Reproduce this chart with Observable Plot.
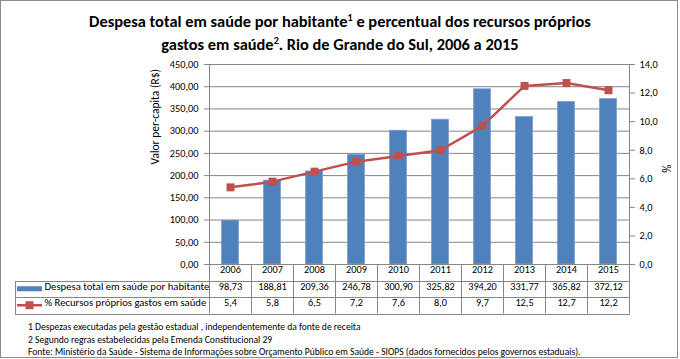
<!DOCTYPE html>
<html><head><meta charset="utf-8">
<script src="https://cdn.jsdelivr.net/npm/d3@7"></script>
<script src="https://cdn.jsdelivr.net/npm/@observablehq/plot@0.6"></script>
<style>
html,body{margin:0;padding:0;background:#fff;}
#wrap{position:relative;width:680px;height:359px;overflow:hidden;font-family:Carlito,Calibri,Lato,sans-serif;}
#frame{position:absolute;left:0;top:0;width:676px;height:356px;border:1px solid #8c8c8c;}
#title{position:absolute;left:0;top:10px;width:680px;text-align:center;font-weight:bold;font-size:16.4px;line-height:23px;color:#000;}
#title sup{font-size:10px;line-height:0;vertical-align:6px;}
#notes{position:absolute;left:28px;top:321px;font-size:9.6px;line-height:12.5px;color:#000;}
#chart{position:absolute;left:0;top:0;}
</style></head>
<body>
<div id="wrap">
<div id="frame"></div>
<div id="chart"></div>
<div id="title">Despesa total em saúde por habitante<sup>1</sup> e percentual dos recursos próprios<br>gastos em saúde<sup>2</sup>. Rio de Grande do Sul, 2006 a 2015</div>
<div id="notes">1 Despezas executadas pela gestão estadual , independentemente da fonte de receita<br>2 Segundo regras estabelecidas pela Emenda Constitucional 29<br>Fonte: Ministério da Saúde - Sistema de Informações sobre Orçamento Público em Saúde - SIOPS (dados fornecidos pelos governos estaduais).</div>
</div>
<script>
const years = ["2006","2007","2008","2009","2010","2011","2012","2013","2014","2015"];
const despesa = [98.73,188.81,209.36,246.78,300.90,325.82,394.20,331.77,365.82,372.12];
const pct = [5.4,5.8,6.5,7.2,7.6,8.0,9.7,12.5,12.7,12.2];
const leftTicks = [0,50,100,150,200,250,300,350,400,450];
const rightTicks = [0,2,4,6,8,10,12,14];
const seriesNames = ["Despesa total em saúde por habitante","% Recursos próprios gastos em saúde"];
const leftTitle = "Valor per-capita (R$)";
const rightTitle = "%";

const LMAX = 450, RMAX = 14;
const toLeft = v => v * LMAX / RMAX;
const data = years.map((y,i)=>({year:y, despesa:despesa[i], pct:pct[i]}));
const fmt2 = v => v.toFixed(2).replace(".",",");
const fmt1 = v => v.toFixed(1).replace(".",",");

const BLUE = "#4F81BD", RED = "#C0504D", GRID = "#868686";
const FONT = "Carlito, Calibri, Lato, sans-serif";

function tableMark(index, scales, values, dim) {
  const x = scales.x;
  const left = dim.marginLeft, right = dim.width - dim.marginRight;
  const top = dim.marginTop, bottom = dim.height - dim.marginBottom;
  const r1 = bottom + 16.5, r2 = bottom + 33, r3 = bottom + 49.5;
  const tableLeft = 15;
  const g = d3.create("svg:g").attr("stroke", GRID).attr("stroke-width", 1).attr("fill","none");
  const L = (x1,y1,x2,y2) => g.append("line").attr("x1",x1).attr("y1",y1).attr("x2",x2).attr("y2",y2);
  L(left+0.5, top, left+0.5, r3);
  L(right+0.5, top, right+0.5, r3);
  L(left, bottom+0.5, right, bottom+0.5);
  [r1, r2, r3].forEach(yy => L(tableLeft, Math.round(yy)+0.5, right+1, Math.round(yy)+0.5));
  L(tableLeft+0.5, Math.round(r1), tableLeft+0.5, Math.round(r3)+1);
  years.forEach((yr,i) => { if (i>0) L(Math.round(x(yr))+0.5, bottom, Math.round(x(yr))+0.5, r3); });
  const ky1 = (r1 + r2)/2, ky2 = (r2 + r3)/2;
  g.append("rect").attr("x",17).attr("y",ky1-2.5).attr("width",25).attr("height",5).attr("fill",BLUE).attr("stroke","none");
  g.append("line").attr("x1",17).attr("x2",42).attr("y1",ky2).attr("y2",ky2).attr("stroke",RED).attr("stroke-width",2.5);
  g.append("rect").attr("x",25.5).attr("y",ky2-4).attr("width",8).attr("height",8).attr("fill",RED).attr("stroke","none");
  return g.node();
}

const chart = Plot.plot({
  width: 680, height: 359,
  marginLeft: 209, marginRight: 51, marginTop: 64, marginBottom: 95,
  style: {fontFamily: FONT, fontSize: "10px", color: "#000", background: "transparent", overflow: "visible"},
  x: {type: "band", domain: years, padding: 0, axis: null},
  y: {domain: [0, LMAX], axis: null},
  marks: [
    Plot.ruleY(leftTicks.slice(1), {stroke: GRID, strokeOpacity: 1}),
    Plot.barY(data, {x: "year", y: "despesa", fill: BLUE, stroke: "#7BA0CD", strokeWidth: 0.8, insetLeft: 12.5, insetRight: 12.5}),
    tableMark,
    Plot.lineY(data, {x: "year", y: d => toLeft(d.pct), stroke: RED, strokeWidth: 2.5}),
    Plot.dot(data, {x: "year", y: d => toLeft(d.pct), symbol: "square", r: 4.5, fill: RED, stroke: "none"}),
    Plot.axisY({anchor: "left", ticks: leftTicks, tickFormat: fmt2, tickSize: 5, tickPadding: 6, label: null, stroke: GRID, fontSize: 10.3}),
    Plot.axisY({anchor: "right", ticks: rightTicks.map(toLeft), tickFormat: d => fmt1(d * RMAX / LMAX), tickSize: 5, tickPadding: 5, label: null, stroke: GRID, fontSize: 10.3}),
    Plot.text([leftTitle], {frameAnchor: "left", text: d => d, rotate: -90, dx: -54, fontSize: 11.5}),
    Plot.text([rightTitle], {frameAnchor: "right", text: d => d, rotate: -90, dx: 38, fontSize: 11.5}),
    Plot.text(data, {x: "year", text: "year", frameAnchor: "bottom", dy: 8.5, fontSize: 10.3}),
    Plot.text(data, {x: "year", text: d => fmt2(d.despesa), frameAnchor: "bottom", dy: 25, fontSize: 10.3}),
    Plot.text(data, {x: "year", text: d => fmt1(d.pct), frameAnchor: "bottom", dy: 41.5, fontSize: 10.3}),
    Plot.text([seriesNames[0]], {frameAnchor: "bottom-left", text: d => d, textAnchor: "start", dx: -165, dy: 25, fontSize: 10.7}),
    Plot.text([seriesNames[1]], {frameAnchor: "bottom-left", text: d => d, textAnchor: "start", dx: -165, dy: 41.5, fontSize: 10.7})
  ]
});
document.getElementById("chart").appendChild(chart);
</script>
</body></html>
